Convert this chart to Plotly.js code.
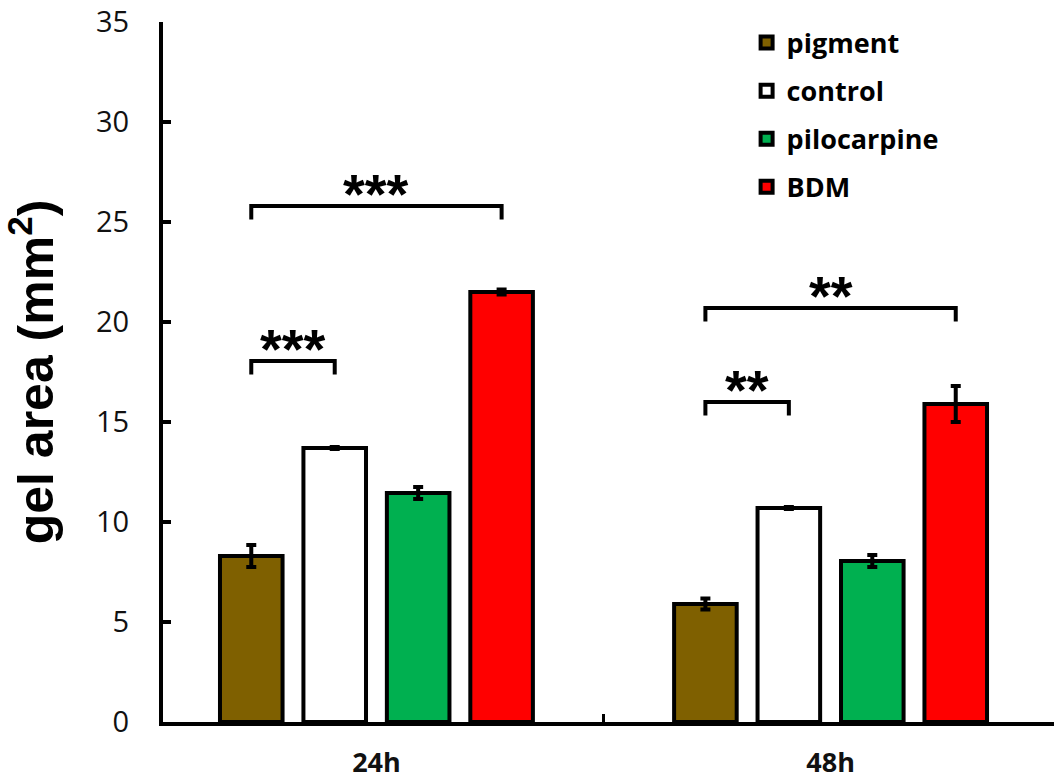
<!DOCTYPE html>
<html>
<head>
<meta charset="utf-8">
<script src="https://cdn.plot.ly/plotly-3.0.1.min.js"></script>
<style>html,body{margin:0;padding:0;background:#fff;}#chart{width:1054px;height:781px;}</style>
</head>
<body>
<div id="chart"></div>
<script>
// ---- data ----
const timepoints = ["24h", "48h"];
const seriesNames = ["pigment", "control", "pilocarpine", "BDM"];
const seriesColors = ["#7F6000", "#FFFFFF", "#00B050", "#FF0000"];
const pigment     = [8.3, 5.9];
const control     = [13.7, 10.7];
const pilocarpine = [11.45, 8.05];
const bdm         = [21.5, 15.9];
const pigmentErr     = [0.55, 0.28];
const controlErr     = [0.05, 0.05];
const pilocarpineErr = [0.3, 0.3];
const bdmErr         = [0.12, 0.9];
// significance brackets: [timepoint index, from series, to series, label, bracket height]
const sigGroups  = [0, 0, 1, 1];
const sigFrom    = [0, 0, 0, 0];
const sigTo      = [3, 1, 3, 1];
const sigLabels  = ["***", "***", "**", "**"];
const sigHeights = [25.8, 18.05, 20.7, 16.0];

const values = [pigment, control, pilocarpine, bdm];
const errs = [pigmentErr, controlErr, pilocarpineErr, bdmErr];

const bargap = 0.265;
const slot = (1 - bargap) / seriesNames.length;

const traces = seriesNames.map((name, i) => ({
  type: "bar",
  name: name,
  legendgroup: name,
  x: timepoints,
  y: values[i],
  marker: { color: seriesColors[i], line: { color: "#000", width: 4 } },
  error_y: { type: "data", array: errs[i], visible: true, color: "#000", thickness: 4, width: 5 }
}));

const shapes = [];
const annotations = [];
const drop = 0.68;
sigGroups.forEach((g, k) => {
  const x0 = g + (sigFrom[k] - 1.5) * slot;
  const x1 = g + (sigTo[k] - 1.5) * slot;
  const h = sigHeights[k];
  shapes.push({
    type: "path", xref: "x", yref: "y",
    path: `M ${x0} ${h - drop} L ${x0} ${h} L ${x1} ${h} L ${x1} ${h - drop}`,
    line: { color: "#000", width: 4 }
  });
  annotations.push({
    xref: "x", yref: "y", x: (x0 + x1) / 2, y: h - 1.05,
    text: sigLabels[k], showarrow: false, yanchor: "bottom",
    font: { family: "Liberation Sans, Arial, sans-serif", size: 56, color: "#000", weight: "bold" }
  });
});

const layout = {
  width: 1054, height: 781,
  margin: { l: 163, r: 0, t: 22, b: 59 },
  paper_bgcolor: "#fff", plot_bgcolor: "#fff",
  barmode: "group", bargap: bargap, bargroupgap: 0.25,
  showlegend: true,
  legend: {
    x: 0.655, xanchor: "left", y: 1.005, yanchor: "top",
    font: { family: "Open Sans, sans-serif", size: 27, color: "#000", weight: "bold" },
    traceorder: "grouped", tracegroupgap: 10, bgcolor: "rgba(0,0,0,0)"
  },
  xaxis: {
    type: "category", range: [-0.470, 1.492],
    showline: true, linecolor: "#000", linewidth: 4,
    ticks: "inside", tickson: "boundaries", ticklen: 8, tickwidth: 3, tickcolor: "#000",
    tickfont: { family: "Open Sans, sans-serif", size: 27, color: "#111", weight: "bold" },
    ticklabelstandoff: 14,
    showgrid: false, zeroline: false, fixedrange: true
  },
  yaxis: {
    range: [0, 35], dtick: 5,
    showline: true, linecolor: "#000", linewidth: 4,
    ticks: "inside", ticklen: 8, tickwidth: 4, tickcolor: "#000",
    tickfont: { family: "Open Sans, sans-serif", size: 29, color: "#111" },
    ticklabelstandoff: 24,
    showgrid: false, zeroline: false, fixedrange: true,
    title: { text: "gel area (mm<sup>2</sup>)", standoff: 28,
      font: { family: "Liberation Sans, Arial, sans-serif", size: 50, color: "#000", weight: "bold" } }
  },
  shapes: shapes,
  annotations: annotations
};

Plotly.newPlot("chart", traces, layout, { displayModeBar: false, staticPlot: true });
</script>
</body>
</html>
